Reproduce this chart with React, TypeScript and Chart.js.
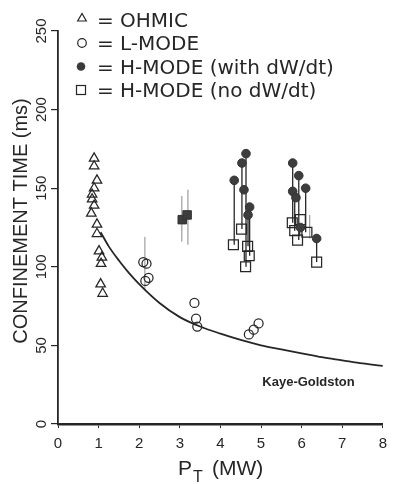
import React, { useEffect, useRef } from 'react';
import { Chart, registerables } from 'chart.js';

Chart.register(...registerables);

// ---- data ----
const X_TICKS = [0, 1, 2, 3, 4, 5, 6, 7, 8];
const Y_TICKS = [0, 50, 100, 150, 200, 250];

const OHMIC_X = [0.89, 0.89, 0.96, 0.89, 0.84, 0.84, 0.89, 0.82, 0.96, 0.96, 1.01, 1.08, 1.06, 1.05, 1.1];
const OHMIC_Y = [169, 164, 155, 150, 146, 143, 139, 134, 127, 121, 110, 106, 102, 89, 83];

const LMODE_X = [2.1, 2.18, 2.15, 2.23, 3.36, 3.4, 3.43, 4.7, 4.82, 4.94];
const LMODE_Y = [103, 102, 91, 93, 77, 67, 62, 57, 60, 64];

const HWITH_X = [4.34, 4.53, 4.63, 4.58, 4.72, 4.68, 5.78, 5.93, 6.1, 5.78, 5.86, 5.97, 6.37];
const HWITH_Y = [155, 166, 172, 149, 138, 133, 166, 158, 150, 148, 144, 125, 118];

const HNO_X = [4.32, 4.52, 4.67, 4.71, 4.62, 5.77, 5.97, 5.83, 6.13, 5.9, 6.37];
const HNO_Y = [114, 124, 113, 107, 100, 128, 130, 123, 122, 117, 103];

const HFILLSQ_X = [3.06, 3.18];
const HFILLSQ_Y = [130, 133];

const LINK_X = [4.34, 4.53, 4.63, 4.72, 4.68, 5.78, 5.93, 6.1, 6.37, 5.83];
const LINK_TOP = [155, 166, 172, 138, 133, 166, 158, 150, 118, 148];
const LINK_BOTTOM = [114, 124, 100, 107, 113, 128, 117, 122, 103, 123];

const BAR_X = [2.14, 3.05, 3.2, 6.2];
const BAR_LO = [85, 116, 114, 118];
const BAR_HI = [119, 145, 149, 133];

const CURVE_X = [1.05, 1.25, 1.5, 1.75, 2, 2.5, 3, 3.5, 4, 4.5, 5, 5.5, 6, 6.5, 7, 7.5, 8];
const CURVE_Y = [122, 113, 104, 96, 89, 77, 68, 62, 57.5, 53.5, 50, 47.5, 45, 42.5, 40.5, 38.5, 37];

const LEGEND_LABELS = ['OHMIC', 'L-MODE', 'H-MODE (with dW/dt)', 'H-MODE (no dW/dt)'];
const Y_TITLE = 'CONFINEMENT TIME (ms)';
const X_TITLE_MAIN = 'P';
const X_TITLE_SUB = 'T';
const X_TITLE_UNIT = '(MW)';
const CURVE_LABEL = 'Kaye-Goldston';

const INK = '#262626';
const SANS = '"Liberation Sans", Arial, Helvetica, sans-serif';
const WIDE = '"DejaVu Sans", "Liberation Sans", sans-serif';

export default function App() {
  const ref = useRef<HTMLCanvasElement>(null);

  useEffect(() => {
    const canvas = ref.current;
    if (!canvas) return;
    const pts = (xs: number[], ys: number[]) => xs.map((x, i) => ({ x, y: ys[i] }));
    const segs = (xs: number[], a: number[], b: number[]) =>
      xs.flatMap((x, i) => [{ x, y: a[i] }, { x, y: b[i] }, { x, y: null as any }]);

    const overlay = {
      id: 'overlay',
      afterDraw(chart: any) {
        const ctx = chart.ctx as CanvasRenderingContext2D;
        const ys = chart.scales.y;
        const xs = chart.scales.x;
        ctx.save();
        ctx.fillStyle = INK;
        ctx.strokeStyle = INK;

        // y tick labels (rotated)
        ctx.font = `15px ${SANS}`;
        ctx.textAlign = 'center';
        ctx.textBaseline = 'middle';
        for (const t of ys.ticks) {
          const py = ys.getPixelForValue(t.value);
          ctx.save();
          ctx.translate(42, py);
          ctx.rotate(-Math.PI / 2);
          ctx.fillText(String(t.value), 0, 0);
          ctx.restore();
        }

        // y title
        ctx.save();
        ctx.translate(21, 221);
        ctx.rotate(-Math.PI / 2);
        ctx.font = `20px ${SANS}`;
        ctx.fillText(Y_TITLE, 0, 0);
        ctx.restore();

        // x title with subscript
        ctx.textAlign = 'left';
        ctx.textBaseline = 'alphabetic';
        ctx.font = `21px ${SANS}`;
        ctx.fillText(X_TITLE_MAIN, 178, 475);
        ctx.font = `16px ${SANS}`;
        ctx.fillText(X_TITLE_SUB, 193, 482);
        ctx.font = `21px ${SANS}`;
        ctx.fillText(X_TITLE_UNIT, 212, 475);

        // curve label
        ctx.font = `bold 13px ${SANS}`;
        ctx.textAlign = 'center';
        ctx.fillText(CURVE_LABEL, xs.getPixelForValue(6.17), ys.getPixelForValue(24));

        // legend
        const rows = [19.5, 43, 66.5, 90];
        ctx.lineWidth = 1.2;
        {
          const cx = 82, cy = rows[0] - 1, r = 5;
          ctx.beginPath();
          ctx.moveTo(cx, cy - r);
          ctx.lineTo(cx - r * 0.866, cy + r * 0.5);
          ctx.lineTo(cx + r * 0.866, cy + r * 0.5);
          ctx.closePath();
          ctx.stroke();
        }
        ctx.beginPath();
        ctx.arc(82, rows[1], 4.3, 0, Math.PI * 2);
        ctx.stroke();
        ctx.beginPath();
        ctx.arc(81, rows[2], 4.3, 0, Math.PI * 2);
        ctx.fillStyle = '#3a3a3a';
        ctx.fill();
        ctx.fillStyle = INK;
        ctx.strokeRect(76.5, rows[3] - 4.5, 9, 9);

        ctx.font = `20px ${WIDE}`;
        ctx.textAlign = 'left';
        ctx.textBaseline = 'alphabetic';
        rows.forEach((cy, i) => {
          ctx.fillText('=', 97, cy + 7.3);
          ctx.fillText(LEGEND_LABELS[i], 120, cy + 7.3);
        });
        ctx.restore();
      },
    };

    const chart = new Chart(canvas, {
      type: 'scatter',
      data: {
        datasets: [
          {
            label: LEGEND_LABELS[0],
            data: pts(OHMIC_X, OHMIC_Y),
            pointStyle: 'triangle',
            pointRadius: 5.5,
            borderColor: INK,
            backgroundColor: 'rgba(0,0,0,0)',
            borderWidth: 1.25,
            order: 1,
          },
          {
            label: LEGEND_LABELS[1],
            data: pts(LMODE_X, LMODE_Y),
            pointStyle: 'circle',
            pointRadius: 4.5,
            borderColor: INK,
            backgroundColor: 'rgba(0,0,0,0)',
            borderWidth: 1.25,
            order: 1,
          },
          {
            label: LEGEND_LABELS[2],
            data: pts(HWITH_X, HWITH_Y),
            pointStyle: 'circle',
            pointRadius: 4.3,
            borderColor: '#333',
            backgroundColor: '#3d3d3d',
            borderWidth: 1,
            order: 1,
          },
          {
            label: LEGEND_LABELS[3],
            data: pts(HNO_X, HNO_Y),
            pointStyle: 'rect',
            pointRadius: 7,
            borderColor: INK,
            backgroundColor: 'rgba(0,0,0,0)',
            borderWidth: 1.25,
            order: 1,
          },
          {
            label: 'filled squares',
            data: pts(HFILLSQ_X, HFILLSQ_Y),
            pointStyle: 'rect',
            pointRadius: 6,
            borderColor: '#333',
            backgroundColor: '#3d3d3d',
            borderWidth: 1,
            order: 1,
          },
          {
            type: 'line',
            label: 'links',
            data: segs(LINK_X, LINK_TOP, LINK_BOTTOM),
            showLine: true,
            spanGaps: false,
            pointRadius: 0,
            borderColor: INK,
            borderWidth: 1.3,
            order: 5,
          } as any,
          {
            type: 'line',
            label: 'bars',
            data: segs(BAR_X, BAR_LO, BAR_HI),
            showLine: true,
            spanGaps: false,
            pointRadius: 0,
            borderColor: '#8a8a8a',
            borderWidth: 1,
            order: 6,
          } as any,
          {
            type: 'line',
            label: 'Kaye-Goldston',
            data: pts(CURVE_X, CURVE_Y),
            showLine: true,
            pointRadius: 0,
            borderColor: INK,
            borderWidth: 1.8,
            cubicInterpolationMode: 'monotone',
            order: 4,
          } as any,
        ],
      },
      options: {
        responsive: false,
        animation: false,
        layout: { padding: { top: 31, right: 4, left: 0, bottom: 0 } },
        plugins: { legend: { display: false }, tooltip: { enabled: false } },
        scales: {
          x: {
            type: 'linear',
            min: 0,
            max: 8,
            afterBuildTicks: (s: any) => {
              s.ticks = X_TICKS.map((v) => ({ value: v }));
            },
            afterFit: (s: any) => {
              s.height = 60;
            },
            ticks: { font: { family: SANS, size: 15 }, color: INK, padding: 7, maxRotation: 0 },
            grid: { drawOnChartArea: false, drawTicks: true, tickLength: 4, color: INK, lineWidth: 1 },
            border: { display: true, color: INK, width: 2.5 },
          },
          y: {
            type: 'linear',
            min: 0,
            max: 250,
            afterBuildTicks: (s: any) => {
              s.ticks = Y_TICKS.map((v) => ({ value: v }));
            },
            afterFit: (s: any) => {
              s.width = 58;
            },
            ticks: { display: false },
            grid: { drawOnChartArea: false, drawTicks: true, tickLength: 7, color: INK, lineWidth: 1.2 },
            border: { display: true, color: INK, width: 1.8 },
          },
        },
      } as any,
      plugins: [overlay],
    });
    return () => chart.destroy();
  }, []);

  return (
    <div style={{ position: 'fixed', left: 0, top: 0, width: 394, height: 484, background: '#fff' }}>
      <canvas ref={ref} width={394} height={484} style={{ display: 'block' }} />
    </div>
  );
}
